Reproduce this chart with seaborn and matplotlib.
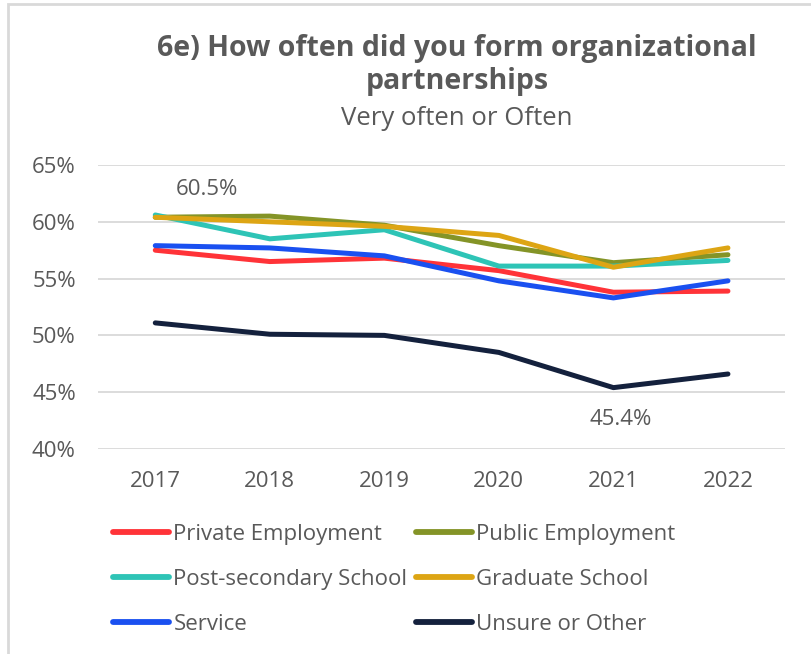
import pandas as pd
import matplotlib.pyplot as plt
import matplotlib.patches as mpatches
from matplotlib.lines import Line2D
from matplotlib.ticker import FuncFormatter
import seaborn as sns

# Data (share answering "Very often" or "Often")
years = [2017, 2018, 2019, 2020, 2021, 2022]
private_employment = [57.5, 56.5, 56.8, 55.7, 53.8, 53.9]
public_employment = [60.4, 60.5, 59.7, 57.9, 56.4, 57.1]
post_secondary = [60.6, 58.5, 59.3, 56.1, 56.1, 56.6]
graduate_school = [60.4, 60.0, 59.6, 58.8, 56.0, 57.7]
service = [57.9, 57.7, 57.0, 54.8, 53.3, 54.8]
unsure_other = [51.1, 50.1, 50.0, 48.5, 45.4, 46.6]

groups = ["Private Employment", "Public Employment", "Post-secondary School",
          "Graduate School", "Service", "Unsure or Other"]
colors = ["#FF3338", "#849427", "#2EC4B6", "#DDA514", "#1A50F0", "#14213D"]

series = [private_employment, public_employment, post_secondary,
          graduate_school, service, unsure_other]
rows = []
for g, vals in zip(groups, series):
    for y, v in zip(years, vals):
        rows.append({"year": y, "pct": v, "group": g})
df = pd.DataFrame(rows)

sns.set_style("white")
plt.rcParams["font.family"] = ["Open Sans", "DejaVu Sans"]
grey = "#595959"

fig = plt.figure(figsize=(8.12, 6.54), dpi=100)
ax = fig.add_axes([0.1207, 0.3135, 0.8463, 0.4342])

sns.lineplot(data=df, x="year", y="pct", hue="group", hue_order=groups,
             palette=dict(zip(groups, colors)), linewidth=3.6, ax=ax,
             legend=False, zorder=3)

ax.set_xlim(2016.5, 2022.5)
ax.set_ylim(40, 65)
ax.set_xticks(years)
ax.set_yticks([40, 45, 50, 55, 60, 65])
ax.yaxis.set_major_formatter(FuncFormatter(lambda v, p: f"{v:.0f}%"))
ax.grid(axis="y", color="#D9D9D9", linewidth=1.3)
ax.set_xlabel("")
ax.set_ylabel("")
for s in ax.spines.values():
    s.set_visible(False)
ax.tick_params(axis="both", labelsize=16, colors=grey, length=0)
ax.tick_params(axis="x", pad=16)
ax.tick_params(axis="y", pad=16)

# data labels
ax.text(2017.45, 62.8, "60.5%", ha="center", va="center", fontsize=16, color=grey)
ax.text(2021.06, 42.6, "45.4%", ha="center", va="center", fontsize=16, color=grey)

# titles
fig.text(0.563, 0.926, "6e) How often did you form organizational", ha="center",
         va="center", fontsize=20.5, fontweight="bold", color=grey)
fig.text(0.563, 0.875, "partnerships", ha="center", va="center",
         fontsize=20.5, fontweight="bold", color=grey)
fig.text(0.563, 0.819, "Very often or Often", ha="center", va="center",
         fontsize=18.5, color=grey)

# legend (row-major order as in the original)
order = [0, 2, 4, 1, 3, 5]
handles = [Line2D([0], [0], color=colors[i], linewidth=4.2, solid_capstyle="round")
           for i in order]
labels = [groups[i] for i in order]
fig.legend(handles, labels, ncol=2, loc="upper left", bbox_to_anchor=(0.115, 0.229),
           frameon=False, fontsize=16, labelcolor=grey, handlelength=2.5,
           handletextpad=0.2, columnspacing=0.4, labelspacing=1.07)

# light frame around the chart
fig.patches.append(mpatches.Rectangle((8 / 812, -0.1), 1.2, 1 - 4 / 654 + 0.1,
                                      transform=fig.transFigure, fill=False,
                                      edgecolor="#D9D9D9", linewidth=2))

fig.savefig("out.png", dpi=100)
